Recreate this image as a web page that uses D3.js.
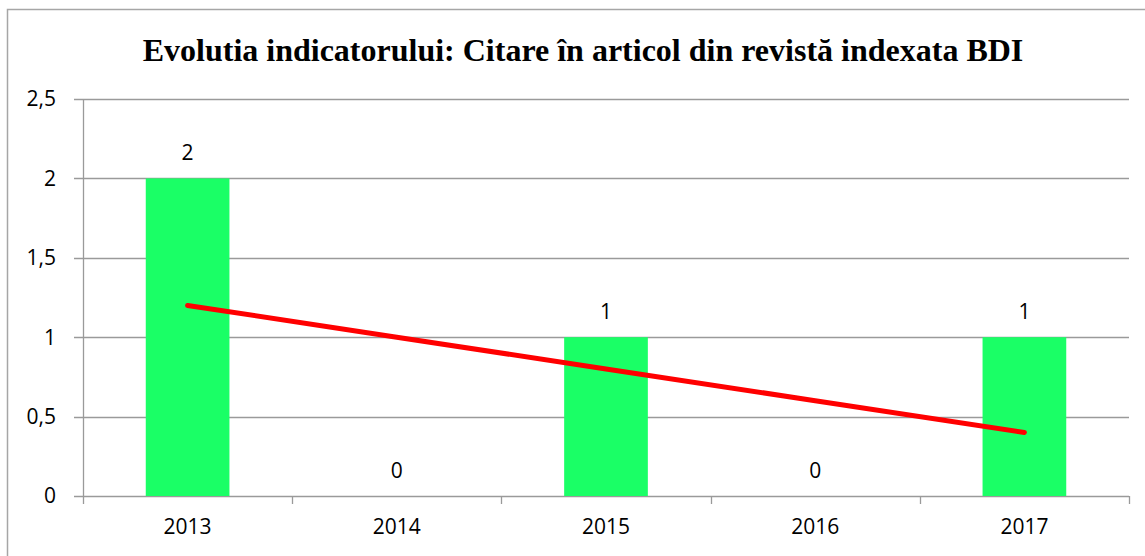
<!DOCTYPE html>
<html>
<head>
<meta charset="utf-8">
<script src="https://cdn.jsdelivr.net/npm/d3@7"></script>
<style>
  body { margin: 0; background: #fff; }
  svg { display: block; }
</style>
</head>
<body>
<div id="chart"></div>
<script>
// chart data
const years = ["2013", "2014", "2015", "2016", "2017"];
const citations = [2, 0, 1, 0, 1];
const trendValues = [1.2, 1.0, 0.8, 0.6, 0.4];
const yTicks = [0, 0.5, 1, 1.5, 2, 2.5];
const titleText = "Evolutia indicatorului: Citare în articol din revistă indexata BDI";

const W = 1145, H = 556;
const margin = { top: 99, right: 16, bottom: 60, left: 83 };
const width = W - margin.left - margin.right;
const height = H - margin.top - margin.bottom;

const svg = d3.select("#chart")
  .append("svg")
  .attr("width", W)
  .attr("height", H);

// outer frame of the chart area
svg.append("rect")
  .attr("x", 7.5)
  .attr("y", 9.5)
  .attr("width", W + 20)
  .attr("height", H + 20)
  .attr("fill", "none")
  .attr("stroke", "#a6a6a6")
  .attr("stroke-width", 1.5);

svg.append("text")
  .attr("x", 583)
  .attr("y", 61)
  .attr("text-anchor", "middle")
  .attr("font-family", "'Liberation Serif', 'Times New Roman', serif")
  .attr("font-weight", "bold")
  .attr("font-size", "32px")
  .attr("fill", "#000")
  .text(titleText);

const g = svg.append("g")
  .attr("transform", "translate(" + margin.left + "," + margin.top + ")");

const xScale = d3.scaleBand()
  .domain(years)
  .range([0, width])
  .paddingInner(0)
  .paddingOuter(0);

const yScale = d3.scaleLinear()
  .domain([0, 2.5])
  .range([height, 0]);

const fmt = d => String(d).replace(".", ",");
const labelFont = "'Open Sans', 'Noto Sans', sans-serif";

// gridlines
g.append("g")
  .selectAll("line")
  .data(yTicks)
  .enter()
  .append("line")
  .attr("x1", -9)
  .attr("x2", width)
  .attr("y1", d => Math.round(yScale(d)) + 0.5)
  .attr("y2", d => Math.round(yScale(d)) + 0.5)
  .attr("stroke", "#9a9a9a")
  .attr("stroke-width", 1.3);

// y axis line
g.append("line")
  .attr("x1", 0.5).attr("x2", 0.5)
  .attr("y1", 0).attr("y2", height + 8)
  .attr("stroke", "#9a9a9a")
  .attr("stroke-width", 1.3);

// x tick marks at category boundaries
g.append("g")
  .selectAll("line")
  .data(years)
  .enter()
  .append("line")
  .attr("x1", d => Math.round(xScale(d) + xScale.bandwidth()) + 0.5)
  .attr("x2", d => Math.round(xScale(d) + xScale.bandwidth()) + 0.5)
  .attr("y1", height)
  .attr("y2", height + 8)
  .attr("stroke", "#9a9a9a")
  .attr("stroke-width", 1.3);

// y tick labels
g.append("g")
  .selectAll("text")
  .data(yTicks)
  .enter()
  .append("text")
  .attr("x", -27)
  .attr("y", d => yScale(d))
  .attr("dy", "0.35em")
  .attr("text-anchor", "end")
  .attr("font-family", labelFont)
  .attr("font-size", "21px")
  .attr("fill", "#000")
  .text(fmt);

// x tick labels
g.append("g")
  .selectAll("text")
  .data(years)
  .enter()
  .append("text")
  .attr("x", d => xScale(d) + xScale.bandwidth() / 2)
  .attr("y", height + 38)
  .attr("text-anchor", "middle")
  .attr("font-family", labelFont)
  .attr("font-size", "21px")
  .attr("fill", "#000")
  .text(d => d);

// bars
const barW = xScale.bandwidth() * 0.4;
g.append("g")
  .selectAll("rect")
  .data(citations)
  .enter()
  .append("rect")
  .attr("x", (d, i) => xScale(years[i]) + (xScale.bandwidth() - barW) / 2)
  .attr("y", d => yScale(d))
  .attr("width", barW)
  .attr("height", d => height - yScale(d))
  .attr("fill", "#1aff66");

// value labels
g.append("g")
  .selectAll("text")
  .data(citations)
  .enter()
  .append("text")
  .attr("x", (d, i) => xScale(years[i]) + xScale.bandwidth() / 2)
  .attr("y", d => yScale(d) - 18)
  .attr("text-anchor", "middle")
  .attr("font-family", labelFont)
  .attr("font-size", "21px")
  .attr("fill", "#000")
  .text(d => d);

// linear trend line
const line = d3.line()
  .x((d, i) => xScale(years[i]) + xScale.bandwidth() / 2)
  .y(d => yScale(d));

g.append("path")
  .datum(trendValues)
  .attr("d", line)
  .attr("fill", "none")
  .attr("stroke", "#ff0000")
  .attr("stroke-width", 5)
  .attr("stroke-linecap", "round");
</script>
</body>
</html>
